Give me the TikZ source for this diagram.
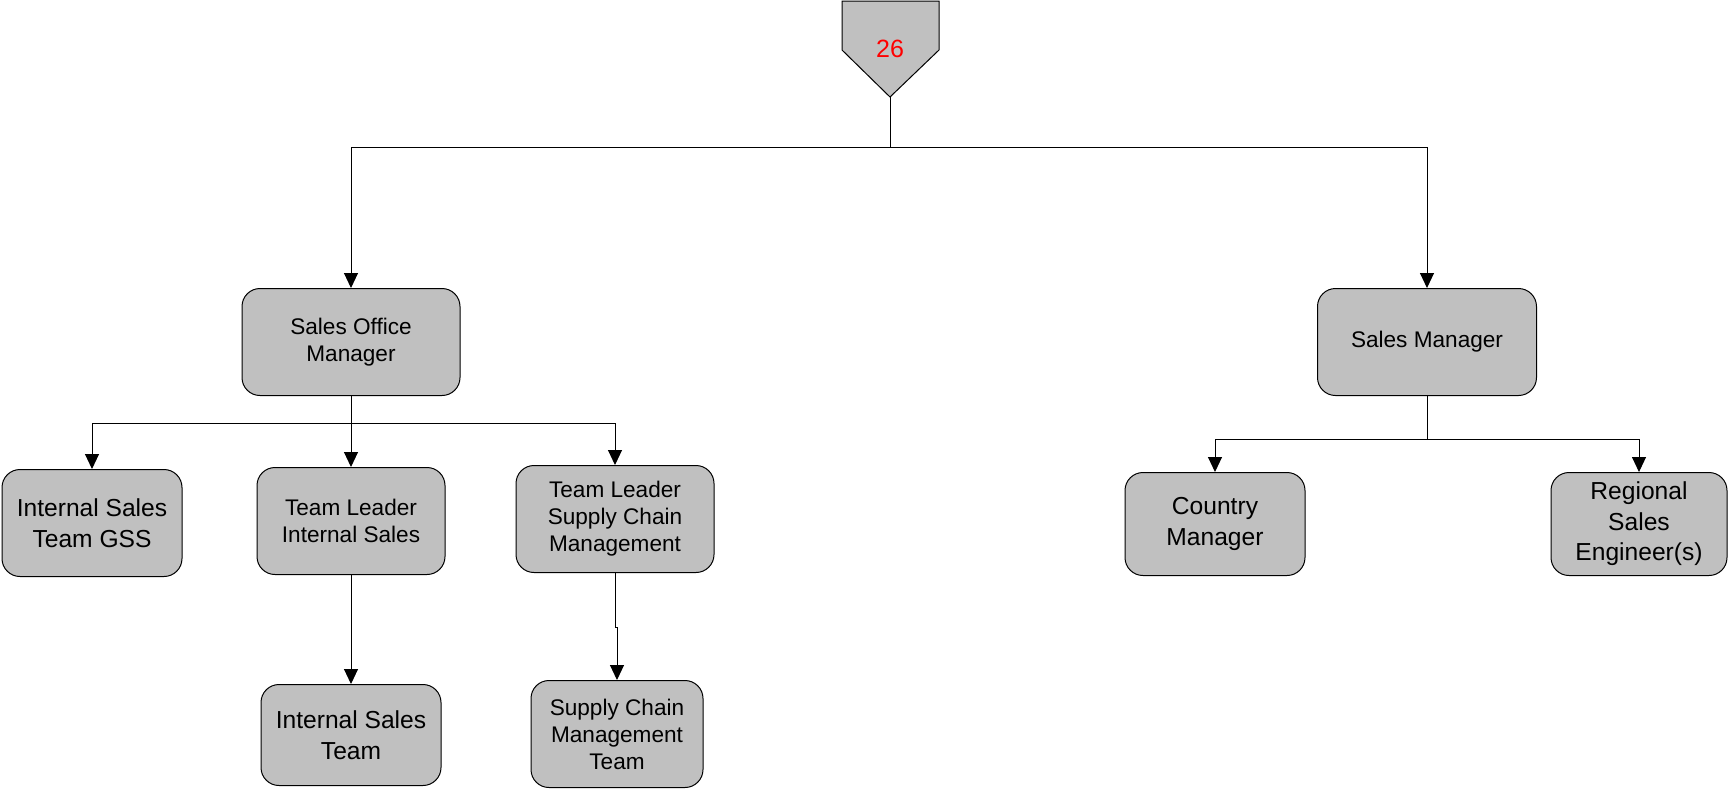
\documentclass[tikz,border=0pt]{standalone}
\usepackage{fontspec}
\setmainfont{Liberation Sans}
\usetikzlibrary{arrows.meta}
\definecolor{boxgray}{RGB}{192,192,192}

\begin{document}
\begin{tikzpicture}[x=0.5pt,y=-0.5pt,line width=0.5pt,>={Triangle[width=7pt,length=7.5pt]}]
	\def \topline{147}
	\def \rowoneht{342}
	\def \rowtwoht{521}
	\def \rowthreeht{735}
	\tikzstyle{o-node}=[rectangle,rounded corners=9pt,draw=black!100,fill=boxgray,align=center,inner sep=2pt,minimum height=53.5pt,font=\fontsize{11.3}{13.5}\selectfont]
	\tikzstyle{b-node}=[o-node,font=\fontsize{12.3}{15.2}\selectfont]
	\useasboundingbox (0,0) rectangle (1730,789);

	% top tag
	\draw[fill=boxgray] (842,1) -- (939,1) -- (939,50) -- (890,97) -- (842,50) -- cycle;
	\node[text=red,font=\fontsize{12.5}{15}\selectfont] (n26) at (890,49) {26};
	\coordinate (tip) at (890,97);
	\coordinate (split) at (890,\topline);

	% managers
	\node[o-node,minimum width=109pt] 	(som)	at (351,\rowoneht)	{Sales Office\\Manager};
	\node[o-node,minimum width=109.5pt] 	(sm)	at (1427,\rowoneht)	{Sales Manager};

	% second row
	\node[b-node,minimum width=90pt] 	(istgss)	at (92,523)	{Internal Sales\\Team GSS};
	\node[o-node,minimum width=94pt] 	(tlis)	at (351,\rowtwoht)	{Team Leader\\Internal Sales};
	\node[o-node,minimum width=99pt] 	(tlscm)	at (615,519)	{Team Leader\\Supply Chain\\Management};
	\node[b-node,minimum width=90pt,minimum height=51.5pt] 	(cm)	at (1215,524)	{Country\\Manager};
	\node[b-node,minimum width=88pt,minimum height=51.5pt] 	(rse)	at (1639,524)	{Regional\\Sales\\Engineer(s)};

	% teams
	\node[b-node,minimum width=90pt,minimum height=50.5pt] 	(ist)	at (351,\rowthreeht)	{Internal Sales\\Team};
	\node[o-node,minimum width=86pt] 	(scmt)	at (617,734)	{Supply Chain\\Management\\Team};

	\coordinate (sombus) at (351,423);
	\coordinate (smbus) at (1427,439);

	\draw[->] (tip) -- (split) -| (som);
	\draw[->] (split) -| (sm);

	\draw (som) -- (sombus);
	\draw[->] (sombus) -| (istgss);
	\draw[->] (sombus) -- (tlis);
	\draw[->] (sombus) -| (tlscm);
	\draw[->] (tlis) -- (ist);
	\draw[->] (tlscm.south) -- ++(0,54) -| (scmt);

	\draw (sm) -- (smbus);
	\draw[->] (smbus) -| (cm);
	\draw[->] (smbus) -| (rse);
\end{tikzpicture}
\end{document}
